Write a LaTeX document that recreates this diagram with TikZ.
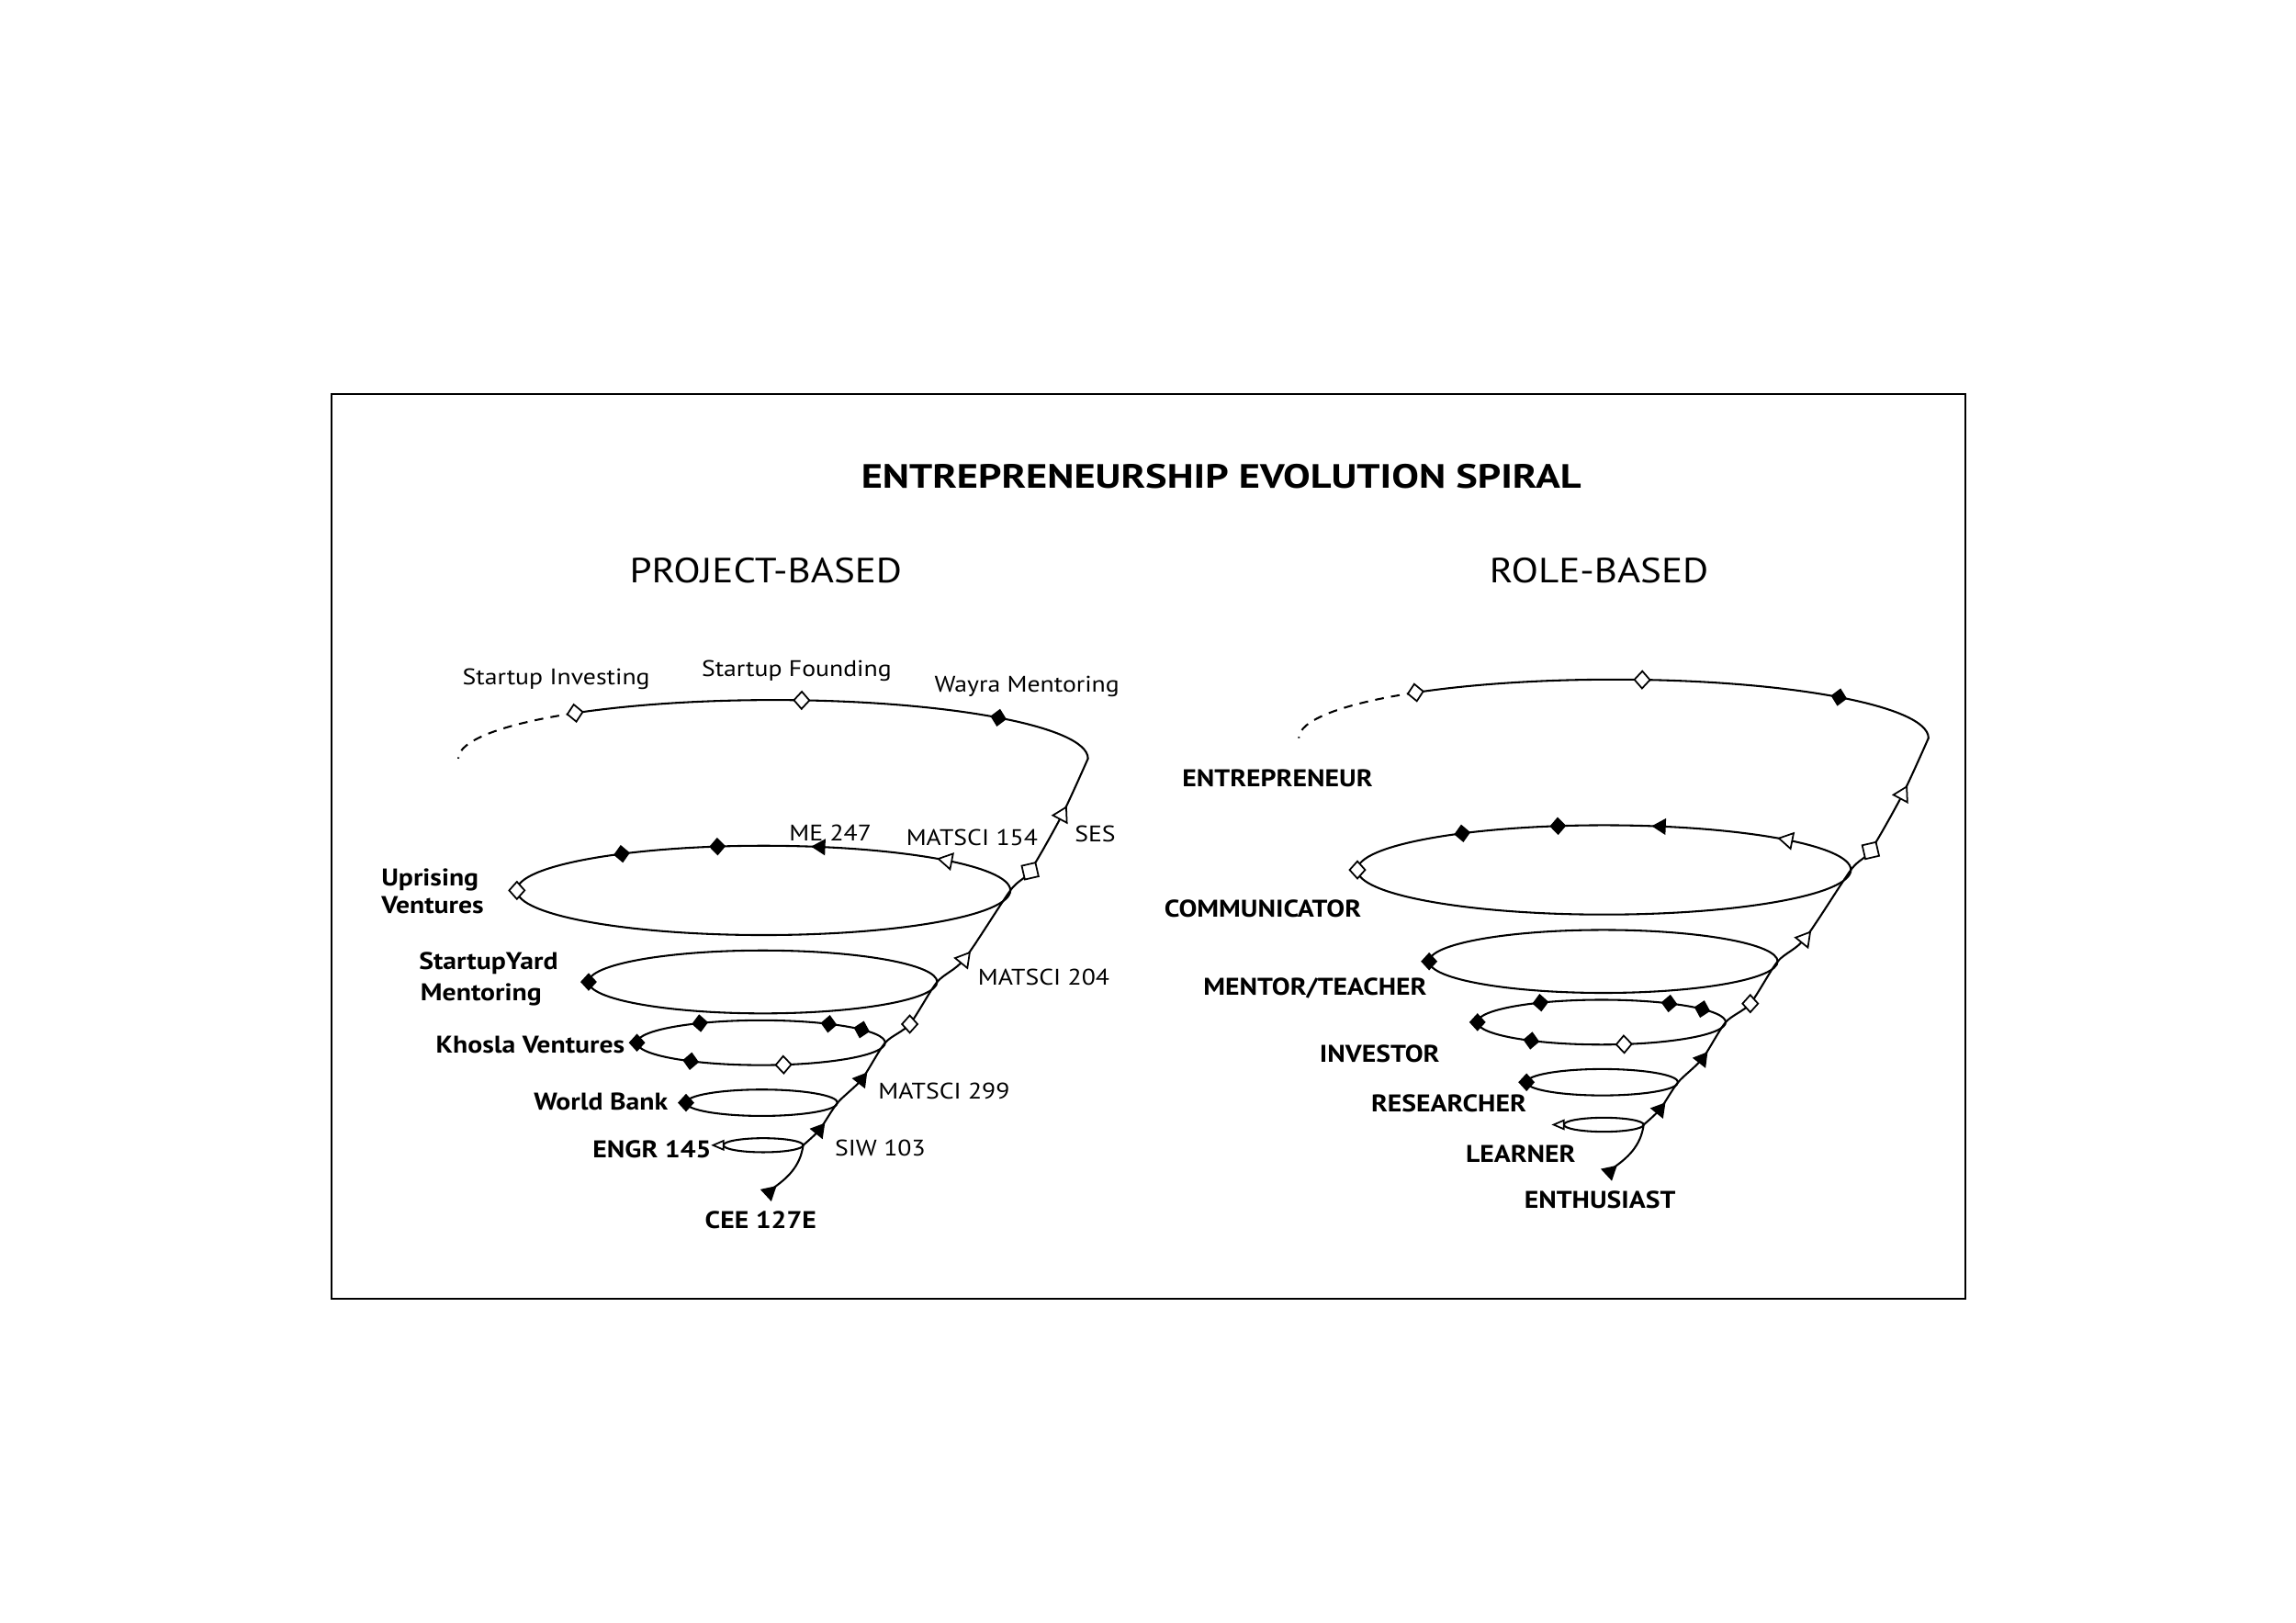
\documentclass[tikz,border=0pt]{standalone}
\usepackage{fontspec}
\setmainfont{PT Sans}[FakeStretch=1.13]
\newfontfamily\titlefont{PT Sans}[FakeStretch=1.21]
\usetikzlibrary{calc}
\tikzset{
  fdia/.pic={\fill[black] (5.6pt,0pt) -- (0pt,6.1pt) -- (-5.6pt,0pt) -- (0pt,-6.1pt) -- cycle;},
  odia/.pic={\filldraw[fill=white,draw=black,line width=1.1pt] (5.3pt,0pt) -- (0pt,5.9pt) -- (-5.3pt,0pt) -- (0pt,-5.9pt) -- cycle;},
  ftri/.pic={\fill[black] (6pt,0pt) -- (-3.6pt,5.7pt) -- (-3.6pt,-5.7pt) -- cycle;},
  otri/.pic={\filldraw[fill=white,draw=black,line width=1.1pt] (5.6pt,0pt) -- (-3.6pt,5.4pt) -- (-3.6pt,-5.4pt) -- cycle;},
  sotri/.pic={\filldraw[fill=white,draw=black,line width=1.1pt] (-7pt,0pt) -- (0pt,3pt) -- (0pt,-3pt) -- cycle;},
  osq/.pic={\filldraw[fill=white,draw=black,line width=1.1pt] (-4.8pt,-4.8pt) rectangle (4.8pt,4.8pt);},
  lbl/.style={font=\fontsize{15.4}{18}\selectfont, inner sep=0pt, anchor=base west},
  blbl/.style={font=\fontsize{16.5}{19}\bfseries\selectfont, inner sep=0pt, anchor=base west},
  curve/.style={line width=1.3pt},
}
\newcommand{\spiralfig}{%
  \coordinate (c0) at (528,518);
  \coordinate (c1) at (521.5,608);
  \coordinate (c2) at (521,670.5);
  \coordinate (c3) at (519.75,712);
  \coordinate (c4) at (520.25,753);
  \coordinate (c5) at (521.25,782);
  \coordinate (E0) at (548.5,782);
  \coordinate (W) at (572,753);
  \coordinate (K) at (604.5,712);
  \coordinate (S) at (640,670.5);
  \coordinate (U) at (690,608);
  \coordinate (T) at (743,518);
  \coordinate (B) at (527,812);
  \coordinate (m1) at (559.6,771.5);
  \coordinate (m2) at (588.5,737);
  \coordinate (m3) at (621.3,699.3);
  \coordinate (m4) at (658.7,654.8);
  \coordinate (m5) at (703.5,594.8);
  \coordinate (m6) at (725.5,556.1);
  % ellipses
  \draw[curve] (c1) ellipse [x radius=168.5pt, y radius=30.5pt];
  \draw[curve] (c2) ellipse [x radius=119pt, y radius=21.5pt];
  \draw[curve] (c3) ellipse [x radius=84.75pt, y radius=15.3pt];
  \draw[curve] (c4) ellipse [x radius=51.75pt, y radius=9pt];
  \draw[curve] (c5) ellipse [x radius=27.25pt, y radius=4.8pt];
  % top loop
  \draw[curve, line cap=round] (T)
     arc[start angle=0, end angle=129, x radius=215pt, y radius=40pt];
  \draw[curve, dash pattern=on 6pt off 5pt] ($(c0)+(129:215pt and 40pt)$)
     arc[start angle=129, end angle=180, x radius=215pt, y radius=40pt];
  % rising line
  \draw[curve, line cap=round] (B) .. controls (537,805) and (546.5,797) .. (E0);
  \draw[curve, line cap=round, line join=round] plot[smooth, tension=0.45]
     coordinates {(E0) (m1) (W) (m2) (K) (m3) (S) (m4) (U) (m5) (m6) (T)};
  % markers on rising line
  \pic[rotate=-78] at (525.5,814.5) {ftri};
  \pic[rotate=51] at (m1) {ftri};
  \pic[rotate=52] at (m2) {ftri};
  \pic at (m3) {odia};
  \pic[rotate=51] at (m4) {otri};
  \pic[rotate=13] at (m5) {osq};
  \pic[rotate=62] at (m6) {otri};
  % markers on top loop
  \pic[rotate=8.6] at ($(c0)+(129:215pt and 40pt)$) {odia};
  \pic[rotate=-1] at ($(c0)+(84.8:215pt and 40pt)$) {odia};
  \pic[rotate=-10.8] at ($(c0)+(44.3:215pt and 40pt)$) {fdia};
  % markers on first ellipse
  \pic at ($(c1)+(180:168.5pt and 30.5pt)$) {odia};
  \pic[rotate=7.2] at ($(c1)+(125.1:168.5pt and 30.5pt)$) {fdia};
  \pic[rotate=2] at ($(c1)+(100.8:168.5pt and 30.5pt)$) {fdia};
  \pic[rotate=177.6] at ($(c1)+(76.8:168.5pt and 30.5pt)$) {ftri};
  \pic[rotate=168.7] at ($(c1)+(42.2:168.5pt and 30.5pt)$) {otri};
  % second ellipse
  \pic at ($(c2)+(180:119pt and 21.5pt)$) {fdia};
  % third ellipse
  \pic at ($(c3)+(180:84.75pt and 15.3pt)$) {fdia};
  \pic[rotate=5.8] at ($(c3)+(119.5:84.75pt and 15.3pt)$) {fdia};
  \pic[rotate=-6.7] at ($(c3)+(56.9:84.75pt and 15.3pt)$) {fdia};
  \pic[rotate=-14] at ($(c3)+(35.8:84.75pt and 15.3pt)$) {fdia};
  \pic[rotate=-7] at ($(c3)+(235.5:84.75pt and 15.3pt)$) {fdia};
  \pic[rotate=2] at ($(c3)+(280.4:84.75pt and 15.3pt)$) {odia};
  % fourth ellipse
  \pic at ($(c4)+(180:51.75pt and 9pt)$) {fdia};
  % fifth ellipse
  \pic at ($(c5)+(180:27.25pt and 4.8pt)$) {sotri};
}
\begin{document}
\begin{tikzpicture}[x=1pt,y=-1pt]
  \useasboundingbox (0,0) rectangle (1568,1108);
  \draw[line width=1.2pt] (226.5,269) rectangle (1342,887);
  \node[font=\titlefont\fontsize{23}{27}\bfseries\selectfont, inner sep=0pt, anchor=base] (title) at (834,333.5) {ENTREPRENEURSHIP EVOLUTION SPIRAL};
  \node[font=\fontsize{23.9}{28}\selectfont, inner sep=0pt, anchor=base] (pb) at (523,398) {PROJECT-BASED};
  \node[font=\fontsize{23.9}{28}\selectfont, inner sep=0pt, anchor=base] (rb) at (1092,398) {ROLE-BASED};
  % left spiral
  \begin{scope}
    \spiralfig
  \end{scope}
  % right spiral
  \begin{scope}[shift={(574,-14)}]
    \spiralfig
  \end{scope}
  % left labels
  \node[lbl] (sinv) at (315.7,467.3) {Startup Investing};
  \node[lbl] (sfnd) at (479,462) {Startup Founding};
  \node[lbl] (wayra) at (638,472.5) {Wayra Mentoring};
  \node[lbl] (me) at (538.8,573.9) {ME 247};
  \node[lbl] (m154) at (618.7,577.4) {MATSCI 154};
  \node[lbl] (ses) at (733.8,575) {SES};
  \node[lbl] (m204) at (667.7,672.5) {MATSCI 204};
  \node[lbl] (m299) at (599.6,750.6) {MATSCI 299};
  \node[lbl] (siw) at (570,789.2) {SIW 103};
  \node[blbl] (upr1) at (260.3,605.2) {Uprising};
  \node[blbl] (upr2) at (260.3,624) {Ventures};
  \node[blbl] (sy1) at (286,661.7) {StartupYard};
  \node[blbl] (sy2) at (287,683.6) {Mentoring};
  \node[blbl] (khv) at (297.5,719.2) {Khosla Ventures};
  \node[blbl] (wb) at (364.4,757.8) {World Bank};
  \node[blbl] (engr) at (404.6,790.7) {ENGR 145};
  \node[blbl] (cee) at (481.3,838.7) {CEE 127E};
  % right labels
  \node[blbl] (ent) at (807.2,537.3) {ENTREPRENEUR};
  \node[blbl] (com) at (795,626.1) {COMMUNICATOR};
  \node[blbl] (men) at (821.6,679.5) {MENTOR/TEACHER};
  \node[blbl] (ivs) at (901,725.5) {INVESTOR};
  \node[blbl] (res) at (936.2,759) {RESEARCHER};
  \node[blbl] (lrn) at (1000.8,793.4) {LEARNER};
  \node[blbl] (ens) at (1040.8,824.8) {ENTHUSIAST};
\end{tikzpicture}
\end{document}
